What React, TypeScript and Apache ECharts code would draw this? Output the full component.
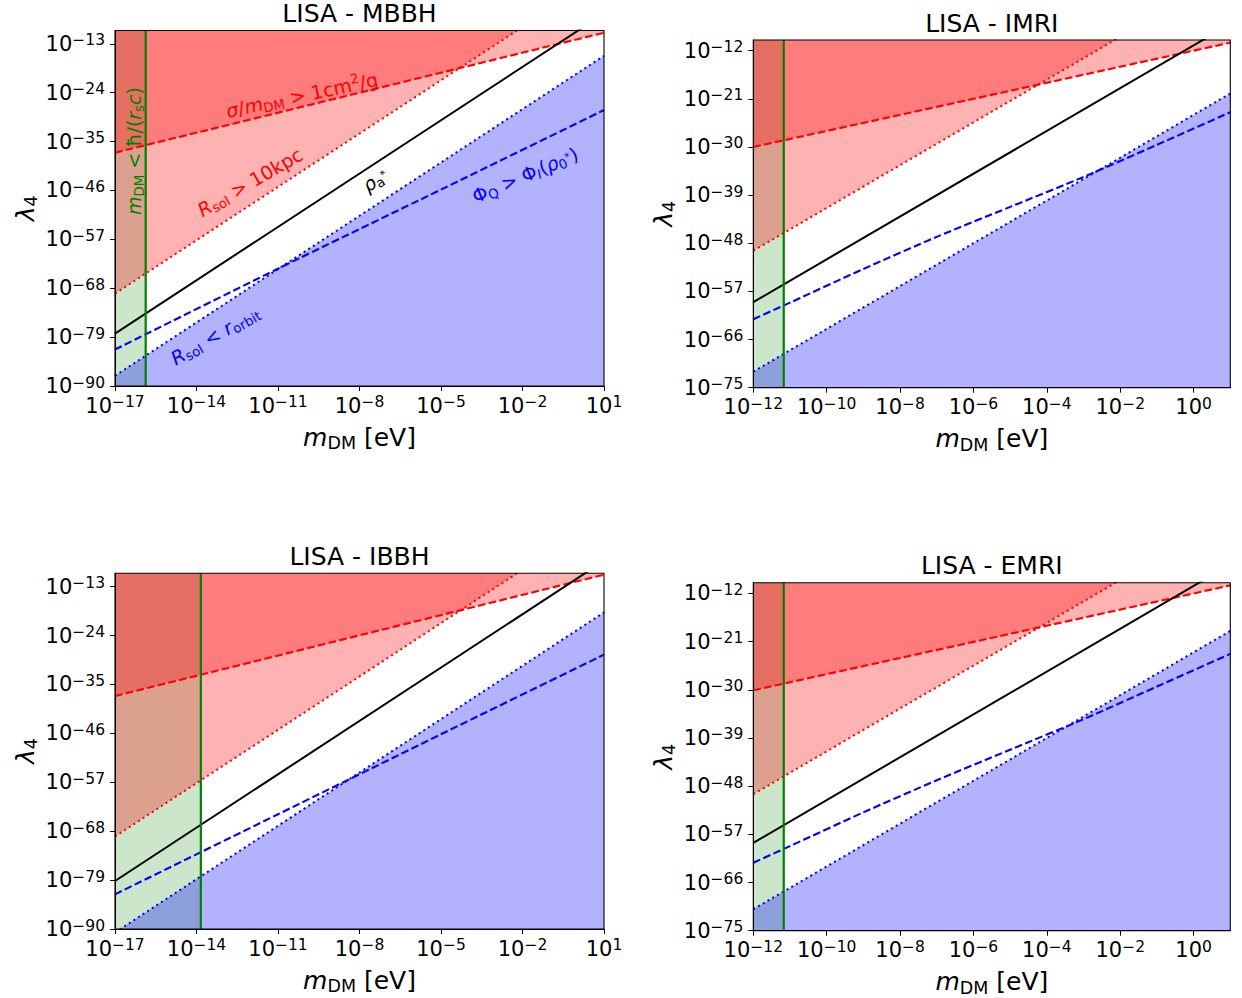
import React, { useEffect, useRef } from 'react';
import * as echarts from 'echarts';

// ---------- data (all values are log10 of the physical quantity) ----------
const titles = ['LISA - MBBH', 'LISA - IMRI', 'LISA - IBBH', 'LISA - EMRI'];

const xRangeWide = [-17, 1];
const xRangeNarrow = [-12, 1];
const yRangeWide = [-90, -10];
const yRangeNarrow = [-75, -10];
const xTicksWide = [-17, -14, -11, -8, -5, -2, 1];
const xTicksNarrow = [-12, -10, -8, -6, -4, -2, 0];
const yTicksWide = [-90, -79, -68, -57, -46, -35, -24, -13];
const yTicksNarrow = [-75, -66, -57, -48, -39, -30, -21, -12];

// MBBH
const mbbhGreen = -15.87;
const mbbhSigma = [[-17, -37.5], [1, -10.5]];
const mbbhRsolMax = [[-17, -69.2], [1, 2.8]];
const mbbhRho = [[-17, -78.2], [1, -6.2]];
const mbbhPhi = [[-17, -81.8], [-11, -63.6], [-5, -45.8], [1, -27.9]];
const mbbhRsolMin = [[-17, -87.7], [1, -15.7]];

// IMRI
const imriGreen = -11.17;
const imriSigma = [[-12, -30.0], [1, -10.5]];
const imriRsolMax = [[-12, -49.4], [1, 2.6]];
const imriRho = [[-12, -59.0], [1, -7.0]];
const imriPhi = [[-12, -62.2], [-11, -59.1], [-9, -52.8], [-7, -46.8], [-5, -41.2], [-3, -35.6], [-1, -29.6], [1, -23.5]];
const imriRsolMin = [[-12, -72.0], [1, -20.0]];

// IBBH
const ibbhGreen = -13.84;
const ibbhSigma = [[-17, -37.6], [1, -10.3]];
const ibbhRsolMax = [[-17, -69.2], [1, 2.8]];
const ibbhRho = [[-17, -79.2], [1, -7.2]];
const ibbhPhi = [[-17, -82.2], [-11, -64.2], [-5, -46.2], [1, -28.3]];
const ibbhRsolMin = [[-17, -90.8], [1, -18.8]];

// EMRI
const emriGreen = -11.17;
const emriSigma = [[-12, -30.1], [1, -10.5]];
const emriRsolMax = [[-12, -49.5], [1, 2.5]];
const emriRho = [[-12, -58.6], [1, -6.6]];
const emriPhi = [[-12, -62.3], [-11, -59.2], [-9, -52.9], [-7, -46.9], [-5, -41.2], [-3, -35.5], [-1, -29.4], [1, -23.3]];
const emriRsolMin = [[-12, -71.0], [1, -19.0]];

// ---------- styling ----------
const FONT = "'DejaVu Sans', sans-serif";
const RED = '#ff0000';
const BLUE = '#0000ff';
const GREEN = '#008000';

const layouts = [
  { left: 115, top: 30.5, width: 489, height: 355.5 },
  { left: 753.3, top: 40, width: 477, height: 347.7 },
  { left: 115, top: 573.3, width: 489, height: 355.7 },
  { left: 753.3, top: 582.7, width: 477, height: 348 },
];

const panels = [
  { title: titles[0], xr: xRangeWide, yr: yRangeWide, xt: xTicksWide, yt: yTicksWide, green: mbbhGreen, sigma: mbbhSigma, rsolMax: mbbhRsolMax, rho: mbbhRho, phi: mbbhPhi, rsolMin: mbbhRsolMin },
  { title: titles[1], xr: xRangeNarrow, yr: yRangeNarrow, xt: xTicksNarrow, yt: yTicksNarrow, green: imriGreen, sigma: imriSigma, rsolMax: imriRsolMax, rho: imriRho, phi: imriPhi, rsolMin: imriRsolMin },
  { title: titles[2], xr: xRangeWide, yr: yRangeWide, xt: xTicksWide, yt: yTicksWide, green: ibbhGreen, sigma: ibbhSigma, rsolMax: ibbhRsolMax, rho: ibbhRho, phi: ibbhPhi, rsolMin: ibbhRsolMin },
  { title: titles[3], xr: xRangeNarrow, yr: yRangeNarrow, xt: xTicksNarrow, yt: yTicksNarrow, green: emriGreen, sigma: emriSigma, rsolMax: emriRsolMax, rho: emriRho, phi: emriPhi, rsolMin: emriRsolMin },
];

function tickFmt(v: number) {
  const e = Math.round(v);
  return `{base|10}{expo|${e < 0 ? '\u2212' : ''}${Math.abs(e)}}`;
}

const tickRich = {
  base: { fontSize: 21, fontFamily: FONT, color: '#000', lineHeight: 23 },
  expo: { fontSize: 15.5, fontFamily: FONT, color: '#000', lineHeight: 12, verticalAlign: 'top' },
};

const nameRich = {
  i: { fontSize: 25, fontFamily: FONT, fontStyle: 'italic', color: '#000', lineHeight: 30 },
  n: { fontSize: 25, fontFamily: FONT, color: '#000', lineHeight: 30 },
  sub: { fontSize: 17.5, fontFamily: FONT, color: '#000', lineHeight: 19, verticalAlign: 'bottom' },
};

function annRich(color: string) {
  return {
    i: { fontSize: 19, fontFamily: FONT, fontStyle: 'italic', fill: color, lineHeight: 23 },
    n: { fontSize: 19, fontFamily: FONT, fill: color, lineHeight: 23 },
    sub: { fontSize: 13.3, fontFamily: FONT, fill: color, lineHeight: 15, verticalAlign: 'bottom' },
    subi: { fontSize: 13.3, fontFamily: FONT, fontStyle: 'italic', fill: color, lineHeight: 15, verticalAlign: 'bottom' },
    sup: { fontSize: 13.3, fontFamily: FONT, fill: color, lineHeight: 11, verticalAlign: 'top' },
    star: { fontSize: 11, fontFamily: FONT, fill: color, lineHeight: 23, verticalAlign: 'middle' },
  };
}

function ann(text: string, x: number, y: number, deg: number, color: string) {
  return {
    type: 'text',
    x,
    y,
    rotation: (deg * Math.PI) / 180,
    z: 50,
    silent: true,
    style: {
      text,
      rich: annRich(color),
      fill: color,
      font: `19px ${FONT}`,
      align: 'center',
      verticalAlign: 'middle',
    },
  };
}

function buildOption() {
  const grid: any[] = [];
  const xAxis: any[] = [];
  const yAxis: any[] = [];
  const series: any[] = [];
  const graphic: any[] = [];

  panels.forEach((p, i) => {
    const L = layouts[i];
    grid.push({
      left: L.left, top: L.top, width: L.width, height: L.height,
      show: false, containLabel: false, outerBoundsMode: 'none',
    });
    xAxis.push({
      gridIndex: i, type: 'value', min: p.xr[0], max: p.xr[1], z: 5,
      axisLine: { show: true, onZero: false, lineStyle: { color: '#000', width: 1 } },
      axisTick: { show: true, inside: false, length: 5, customValues: p.xt, lineStyle: { color: '#000', width: 1 } },
      axisLabel: {
        show: true, customValues: p.xt, formatter: tickFmt, rich: tickRich, margin: 8,
        color: '#000', fontSize: 21, fontFamily: FONT, hideOverlap: false,
      },
      splitLine: { show: false },
      name: '{i|m}{sub|DM}{n| [eV]}',
      nameLocation: 'middle', nameGap: 36,
      nameTextStyle: { rich: nameRich, color: '#000', fontSize: 25, fontFamily: FONT },
    });
    yAxis.push({
      gridIndex: i, type: 'value', min: p.yr[0], max: p.yr[1], z: 5,
      axisLine: { show: true, onZero: false, lineStyle: { color: '#000', width: 1 } },
      axisTick: { show: true, inside: false, length: 5, customValues: p.yt, lineStyle: { color: '#000', width: 1 } },
      axisLabel: {
        show: true, customValues: p.yt, formatter: tickFmt, rich: tickRich, margin: 10,
        color: '#000', fontSize: 21, fontFamily: FONT, hideOverlap: false,
      },
      splitLine: { show: false },
      name: '{i|λ}{sub|4}',
      nameLocation: 'middle', nameGap: 75, nameRotate: 90,
      nameTextStyle: { rich: nameRich, color: '#000', fontSize: 25, fontFamily: FONT },
    });

    const base = { type: 'line', xAxisIndex: i, yAxisIndex: i, symbol: 'none', showSymbol: false, silent: true, clip: true, smooth: false };
    const fill = (data: any, color: string, opacity: number, origin: string) => ({
      ...base, data, z: 2,
      lineStyle: { width: 0, opacity: 0 },
      areaStyle: { color, opacity, origin },
    });
    const line = (data: any, color: string, width: number, type: any) => ({
      ...base, data, z: 3,
      lineStyle: { color, width, type, cap: 'butt' },
    });

    // fills (order matters for blending)
    series.push(fill([[p.xr[0], p.yr[1]], [p.green, p.yr[1]]], GREEN, 0.2, 'start'));
    series.push(fill(p.rsolMax, RED, 0.3, 'end'));
    series.push(fill(p.sigma, RED, 0.3, 'end'));
    series.push(fill(p.rsolMin, BLUE, 0.3, 'start'));
    // lines
    series.push(line(p.rsolMax, RED, 2, [2.1, 3.4]));
    series.push(line(p.sigma, RED, 2.1, [7.7, 3.3]));
    series.push(line(p.rsolMin, BLUE, 2, [2.1, 3.4]));
    series.push({ ...line(p.phi, BLUE, 2.1, [7.7, 3.3]), smooth: 0.25 });
    series.push(line(p.rho, '#000', 2, 'solid'));
    series.push(line([[p.green, p.yr[0]], [p.green, p.yr[1]]], GREEN, 2.2, 'solid'));

    // frame
    graphic.push({
      type: 'rect', z: 100, silent: true,
      shape: { x: L.left, y: L.top, width: L.width, height: L.height },
      style: { fill: 'none', stroke: '#000', lineWidth: 1.1 },
    });
    // title
    graphic.push({
      type: 'text', z: 100, silent: true,
      x: L.left + L.width / 2, y: L.top - 17,
      style: { text: p.title, font: `25px ${FONT}`, fill: '#000', align: 'center', verticalAlign: 'middle' },
    });
  });

  // annotations (MBBH panel)
  graphic.push(ann('{i|σ}{n|/}{i|m}{sub|DM}{n| > 1cm}{sup|2}{n|/g}', 302, 95, 12, RED));
  graphic.push(ann('{i|R}{sub|sol}{n| > 10kpc}', 250, 182, 30, RED));
  graphic.push(ann('{i|ρ}{sub|a}{star|*}', 375, 180, 33, '#000'));
  graphic.push(ann('{n|Φ}{sub|Q}{n| > Φ}{subi|I}{n|(}{i|ρ}{sub|0}{star|*}{n|)}', 525, 175, 23, BLUE));
  graphic.push(ann('{i|R}{sub|sol}{n| < }{i|r}{sub|orbit}', 215, 335, 30, BLUE));
  graphic.push(ann('{i|m}{sub|DM}{n| < ħ/(}{i|r}{sub|s}{i|c}{n|)}', 134, 151, 90, GREEN));

  return {
    animation: false,
    backgroundColor: '#ffffff',
    textStyle: { fontFamily: FONT },
    grid, xAxis, yAxis, series, graphic,
  };
}

export default function App() {
  const ref = useRef<HTMLDivElement>(null);
  useEffect(() => {
    if (!ref.current) return;
    const chart = echarts.init(ref.current, null, { renderer: 'svg' });
    chart.setOption(buildOption() as any);
    return () => chart.dispose();
  }, []);
  return (
    <div
      ref={ref}
      style={{ position: 'absolute', left: 0, top: 0, width: 1242, height: 998, background: '#fff' }}
    />
  );
}
